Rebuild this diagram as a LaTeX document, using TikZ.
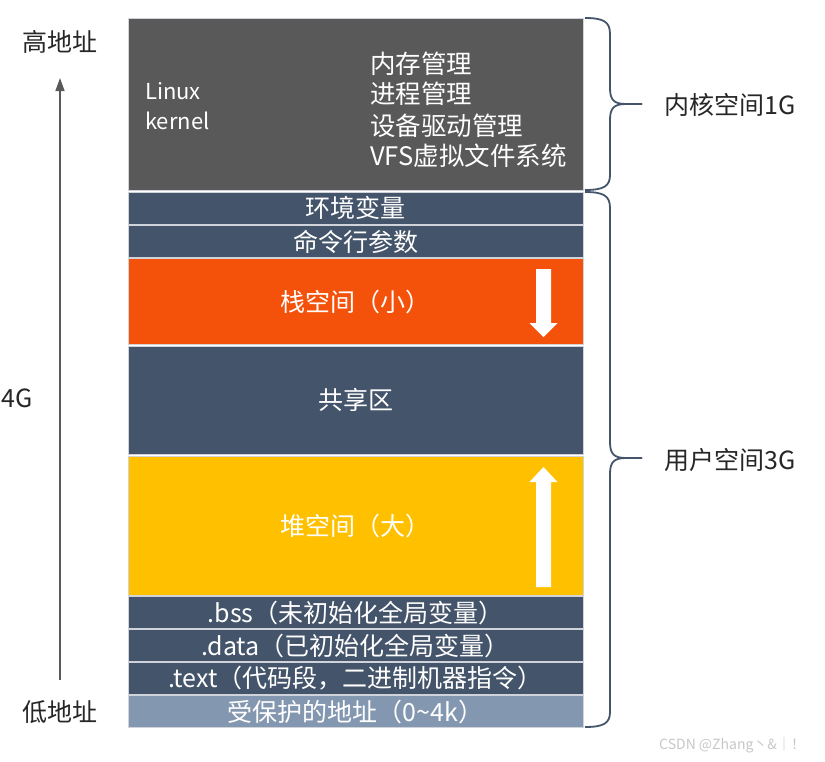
\documentclass[tikz,border=0pt]{standalone}
\usepackage{fontspec}
\setmainfont{Noto Sans CJK SC}
\usetikzlibrary{arrows.meta}
\definecolor{kgray}{HTML}{595959}
\definecolor{slate}{HTML}{44546A}
\definecolor{stackor}{HTML}{F4520A}
\definecolor{heapyl}{HTML}{FFC000}
\definecolor{protbl}{HTML}{8497B0}
\definecolor{sepline}{HTML}{D0D4DA}
\tikzset{
  band/.style={draw=sepline, line width=1pt, minimum width=455pt, inner sep=0pt, text=white, font=\fontsize{25}{27}\selectfont},
  lbl/.style={inner sep=0pt, font=\fontsize{25}{27}\selectfont, text=black!85},
  ktext/.style={inner sep=0pt, anchor=west, font=\fontsize{25.5}{27}\selectfont, text=white},
  ltext/.style={inner sep=0pt, anchor=west, font=\fontsize{22}{24}\selectfont, text=white},
  bracepath/.style={draw=slate, line width=1.8pt},
  blockarrow/.style={fill=white, draw=none}
}
\begin{document}
\begin{tikzpicture}[x=1pt,y=-1pt]
\useasboundingbox (0,0) rectangle (825,761);
% bands
\node[band, fill=kgray, minimum height=172pt] (kernel) at (355.5,104) {};
\node[band, fill=slate, minimum height=32pt] (env) at (355.5,208) {环境变量};
\node[band, fill=slate, minimum height=32pt] (args) at (355.5,241.5) {命令行参数};
\node[band, fill=stackor, minimum height=86pt] (stack) at (355.5,301.5) {栈空间（小）};
\node[band, fill=slate, minimum height=108pt] (shared) at (355.5,400) {共享区};
\node[band, fill=heapyl, minimum height=139pt] (heap) at (355.5,525.5) {堆空间（大）};
\node[band, fill=slate, minimum height=32pt] (bss) at (355.5,612.5) {.bss（未初始化全局变量）};
\node[band, fill=slate, minimum height=32pt] (data) at (355.5,645.5) {.data（已初始化全局变量）};
\node[band, fill=slate, minimum height=32pt] (text) at (355.5,678.5) {.text（代码段，二进制机器指令）};
\node[band, fill=protbl, minimum height=32pt] (prot) at (355.5,711.5) {受保护的地址（0\textasciitilde4k）};
% kernel texts
\node[ltext] (linux) at (145,91) {Linux};
\node[ltext] (kern) at (145,121) {kernel};
\node[ktext] (k1) at (370,64) {内存管理};
\node[ktext] (k2) at (370,94) {进程管理};
\node[ktext] (k3) at (370,126) {设备驱动管理};
\node[ktext] (k4) at (370,156) {VFS虚拟文件系统};
% growth arrows
\fill[blockarrow] (536,269) -- (551,269) -- (551,323) -- (557.5,323) -- (543.5,337) -- (529.5,323) -- (536,323) -- cycle;
\fill[blockarrow] (536,587) -- (551,587) -- (551,482) -- (557.5,482) -- (543.5,467) -- (529.5,482) -- (536,482) -- cycle;
% address axis
\node[lbl] (high) at (60,42) {高地址};
\node[lbl] (low) at (60,712) {低地址};
\node[lbl, anchor=west] (fourg) at (1,398) {4G};
\coordinate (axB) at (60,680);
\coordinate (axT) at (60,78);
\draw[kgray, line width=1.5pt, -{Triangle[length=13pt,width=9pt]}] (axB) -- (axT);
% braces
\draw[bracepath] (585,18) .. controls (604,18) and (610,22) .. (610,34) -- (610,88)
  .. controls (610,100) and (614,104) .. (626,104) -- (642,104);
\draw[bracepath] (642,104) -- (626,104) .. controls (614,104) and (610,108) .. (610,120)
  -- (610,175) .. controls (610,186) and (604,190) .. (585,190);
\draw[bracepath] (585,192) .. controls (604,192) and (610,196) .. (610,208) -- (610,442)
  .. controls (610,454) and (614,458) .. (626,458) -- (642,458);
\draw[bracepath] (642,458) -- (626,458) .. controls (614,458) and (610,462) .. (610,474)
  -- (610,712) .. controls (610,723) and (604,727) .. (585,727);
\node[lbl, anchor=west] (kspace) at (664,105) {内核空间1G};
\node[lbl, anchor=west] (uspace) at (664,460) {用户空间3G};
% watermark
\node[anchor=west, inner sep=0pt, text=black!22, font=\fontsize{14}{15}\selectfont] (wm) at (659,745) {CSDN @Zhang丶\&｜！};
\end{tikzpicture}
\end{document}
